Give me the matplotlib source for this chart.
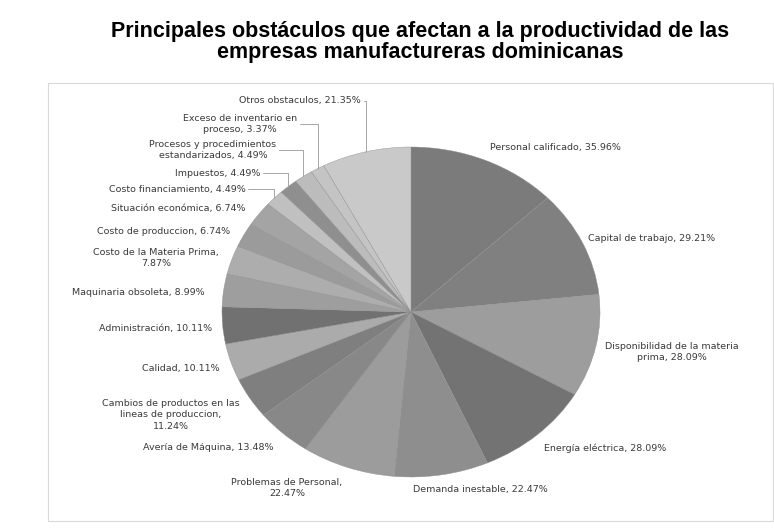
import matplotlib
matplotlib.use("Agg")
import matplotlib.pyplot as plt
from matplotlib.patches import Rectangle
import numpy as np

# obstáculos, en el orden de las agujas del reloj desde arriba
categorias = [
    "Personal calificado",
    "Capital de trabajo",
    "Disponibilidad de la materia\nprima",
    "Energía eléctrica",
    "Demanda inestable",
    "Problemas de Personal",
    "Avería de Máquina",
    "Cambios de productos en las\nlineas de produccion",
    "Calidad",
    "Administración",
    "Maquinaria obsoleta",
    "Costo de la Materia Prima",
    "Costo de produccion",
    "Situación económica",
    "Costo financiamiento",
    "Impuestos",
    "Procesos y procedimientos\nestandarizados",
    "Exceso de inventario en\nproceso",
    "Otros obstaculos",
]
porcentajes = [35.96, 29.21, 28.09, 28.09, 22.47, 22.47, 13.48, 11.24, 10.11,
               10.11, 8.99, 7.87, 6.74, 6.74, 4.49, 4.49, 4.49, 3.37, 21.35]

grises = ["#7b7b7b", "#808080", "#9d9d9d", "#737373", "#8e8e8e", "#9c9c9c",
          "#888888", "#7f7f7f", "#ababab", "#717171", "#9e9e9e", "#adadad",
          "#9b9b9b", "#a4a4a4", "#c0c0c0", "#8f8f8f", "#bcbcbc", "#c4c4c4",
          "#c9c9c9"]

# el porcentaje va en otra línea
pct_aparte = {5, 7, 11}
# etiquetas con línea guía
con_guia = {14, 15, 16, 17, 18}
# centro de cada etiqueta (unidades del pastel)
pos_etiquetas = [
    (0.762, 0.994), (1.275, 0.448), (1.381, -0.242), (1.026, -0.824),
    (0.365, -1.073), (-0.656, -1.067), (-1.074, -0.824), (-1.270, -0.624),
    (-1.217, -0.345), (-1.354, -0.103), (-1.444, 0.121), (-1.349, 0.330),
    (-1.307, 0.485), (-1.233, 0.630), (-1.238, 0.745), (-1.021, 0.842),
    (-1.048, 0.982), (-0.905, 1.139), (-0.587, 1.279),
]

W, H = 774, 529
fig = plt.figure(figsize=(W / 100, H / 100), dpi=100)
fig.patches.append(Rectangle((48 / W, 8 / H), 725 / W, 438 / H,
                             transform=fig.transFigure, fill=False,
                             edgecolor="#d9d9d9", linewidth=0.8))

fig.text(420 / W, 1 - 42 / H,
         "Principales obstáculos que afectan a la productividad de las\n"
         "empresas manufactureras dominicanas",
         ha="center", va="center", fontsize=15.5, fontweight="bold",
         family="Liberation Sans", linespacing=0.98)

ax = fig.add_axes([222 / W, 52 / H, 378 / W, 330 / H])
wedges, _ = ax.pie(porcentajes, colors=grises, startangle=90, counterclock=False,
                   wedgeprops=dict(linewidth=0.3, edgecolor="#909090"))
ax.set_aspect("auto")
ax.set_xlim(-1, 1)
ax.set_ylim(-1, 1)

fuente = dict(fontsize=6.8, family="DejaVu Sans", color="#3a3a3a",
              ha="center", va="center", linespacing=1.3)

for i, (w, cat, val) in enumerate(zip(wedges, categorias, porcentajes)):
    sep = ",\n" if i in pct_aparte else ", "
    texto = f"{cat}{sep}{val:.2f}%"
    tx, ty = pos_etiquetas[i]
    if i in con_guia:
        ang = np.deg2rad((w.theta1 + w.theta2) / 2)
        ax.annotate(texto, xy=(np.cos(ang), np.sin(ang)), xytext=(tx, ty),
                    annotation_clip=False,
                    arrowprops=dict(arrowstyle="-", color="#a6a6a6", lw=0.7,
                                    shrinkA=0, shrinkB=0,
                                    connectionstyle="angle,angleA=0,angleB=90,rad=0"),
                    **fuente)
    else:
        ax.text(tx, ty, texto, clip_on=False, **fuente)

fig.savefig("out.png", dpi=100)
